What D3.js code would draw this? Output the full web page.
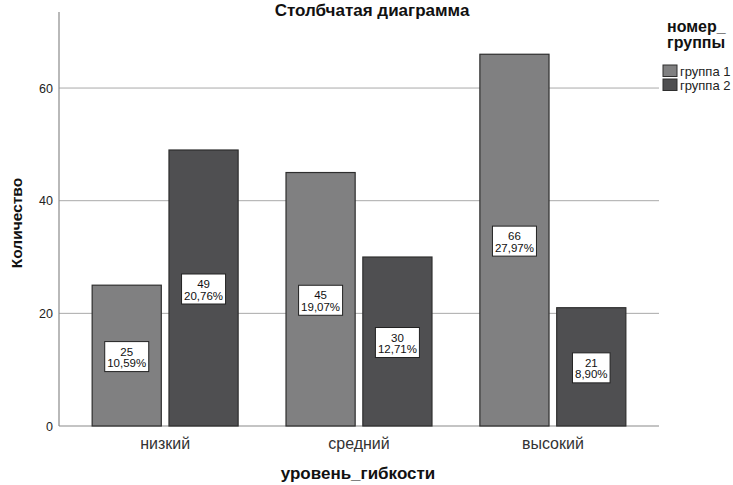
<!DOCTYPE html>
<html>
<head>
<meta charset="utf-8">
<script src="https://cdn.jsdelivr.net/npm/d3@7"></script>
<style>
  html, body { margin: 0; padding: 0; background: #fff; }
  svg { display: block; font-family: Arial, "Liberation Sans", sans-serif; }
</style>
</head>
<body>
<svg id="chart" width="733" height="485"></svg>
<script>
// Flexibility level categories (x axis)
const categories = ["низкий", "средний", "высокий"];
// Group names (legend)
const groups = ["группа 1", "группа 2"];
// Counts per category for each group
const group1Counts = [25, 45, 66];
const group2Counts = [49, 30, 21];
// Percent of total shown in labels
const group1Pct = ["10,59%", "19,07%", "27,97%"];
const group2Pct = ["20,76%", "12,71%", "8,90%"];
// Y axis ticks
const yTicks = [0, 20, 40, 60];

const colors = ["#808081", "#4f4f51"];
const FONT = "Arial, 'Liberation Sans', sans-serif";

const svg = d3.select("#chart");
const plotLeft = 59, plotRight = 659, plotTop = 12, plotBottom = 426;

const y = d3.scaleLinear().domain([0, 73.5]).range([plotBottom, plotTop]);
const x0 = d3.scaleBand().domain(categories).range([plotLeft, plotRight])
  .paddingInner(0.247).paddingOuter(0.171);
const x1 = d3.scaleBand().domain(groups).range([0, x0.bandwidth()])
  .paddingInner(0.1).paddingOuter(0);

// Gridlines
svg.append("g")
  .selectAll("line")
  .data(yTicks.filter(d => d > 0))
  .join("line")
  .attr("x1", plotLeft).attr("x2", plotRight)
  .attr("y1", d => y(d)).attr("y2", d => y(d))
  .attr("stroke", "#a9a9a9").attr("stroke-width", 1);

// Y axis via d3.axisLeft, no tick marks
const yAxis = svg.append("g")
  .attr("transform", `translate(${plotLeft},0)`)
  .call(d3.axisLeft(y).tickValues(yTicks).tickSize(0).tickPadding(6).tickFormat(d3.format("d")));
yAxis.select(".domain").remove();
yAxis.selectAll("text").attr("font-size", 12.5).attr("fill", "#222").attr("font-family", FONT);

// Axis lines
svg.append("line").attr("x1", plotLeft).attr("x2", plotLeft).attr("y1", plotTop).attr("y2", plotBottom)
  .attr("stroke", "#8a8a8a").attr("stroke-width", 1.2);
svg.append("line").attr("x1", plotLeft).attr("x2", plotRight).attr("y1", plotBottom).attr("y2", plotBottom)
  .attr("stroke", "#8a8a8a").attr("stroke-width", 1.2);

// Bars
const rows = categories.map((c, i) => ({
  cat: c,
  vals: [
    { g: groups[0], v: group1Counts[i], p: group1Pct[i], ci: 0 },
    { g: groups[1], v: group2Counts[i], p: group2Pct[i], ci: 1 }
  ]
}));

const catG = svg.append("g").selectAll("g").data(rows).join("g")
  .attr("transform", d => `translate(${x0(d.cat)},0)`);

catG.selectAll("rect").data(d => d.vals).join("rect")
  .attr("x", d => x1(d.g))
  .attr("y", d => y(d.v))
  .attr("width", x1.bandwidth())
  .attr("height", d => y(0) - y(d.v))
  .attr("fill", d => colors[d.ci])
  .attr("stroke", "#2e2e2e").attr("stroke-width", 1.2);

// Value labels in white boxes, centred on each bar
const lab = catG.selectAll("g.lab").data(d => d.vals).join("g").attr("class", "lab")
  .attr("transform", d => `translate(${x1(d.g) + x1.bandwidth() / 2},${(y(d.v) + y(0)) / 2})`);

lab.each(function(d) {
  const g = d3.select(this);
  const box = g.append("rect");
  const t = g.append("text").attr("text-anchor", "middle").attr("font-size", 11.5).attr("fill", "#111");
  t.append("tspan").attr("x", 0).attr("y", 0).text(d.v);
  t.append("tspan").attr("x", 0).attr("y", 11.5).text(d.p);
  const bb = t.node().getBBox();
  box.attr("x", bb.x - 2.5).attr("y", -14).attr("width", bb.width + 5).attr("height", 30)
    .attr("fill", "#fff").attr("stroke", "#222").attr("stroke-width", 1);
});

// X axis labels
const xAxis = svg.append("g")
  .attr("transform", `translate(0,${plotBottom})`)
  .call(d3.axisBottom(x0).tickSize(0).tickPadding(12));
xAxis.select(".domain").remove();
xAxis.selectAll("text").attr("font-size", 16).attr("fill", "#333").attr("font-family", FONT);

// Titles
svg.append("text").attr("x", 372).attr("y", 16).attr("text-anchor", "middle")
  .attr("font-size", 17).attr("font-weight", "bold").attr("fill", "#111")
  .text("Столбчатая диаграмма");

svg.append("text").attr("x", 358).attr("y", 479).attr("text-anchor", "middle")
  .attr("font-size", 17).attr("font-weight", "bold").attr("fill", "#111")
  .text("уровень_гибкости");

svg.append("text").attr("transform", "translate(22,223) rotate(-90)").attr("text-anchor", "middle")
  .attr("font-size", 15.5).attr("font-weight", "bold").attr("fill", "#111")
  .text("Количество");

// Legend
const legend = svg.append("g");
legend.append("text").attr("x", 667).attr("y", 32).attr("font-size", 16).attr("font-weight", "bold").attr("fill", "#111").text("номер_");
legend.append("text").attr("x", 667).attr("y", 48).attr("font-size", 16).attr("font-weight", "bold").attr("fill", "#111").text("группы");
const li = legend.selectAll("g.item").data(groups).join("g").attr("class", "item")
  .attr("transform", (d, i) => `translate(663,${65 + i * 14})`);
li.append("rect").attr("width", 14).attr("height", 11.5)
  .attr("fill", (d, i) => colors[i]).attr("stroke", "#2e2e2e").attr("stroke-width", 1);
li.append("text").attr("x", 17).attr("y", 10.5).attr("font-size", 13).attr("fill", "#222").text(d => d);
</script>
</body>
</html>
